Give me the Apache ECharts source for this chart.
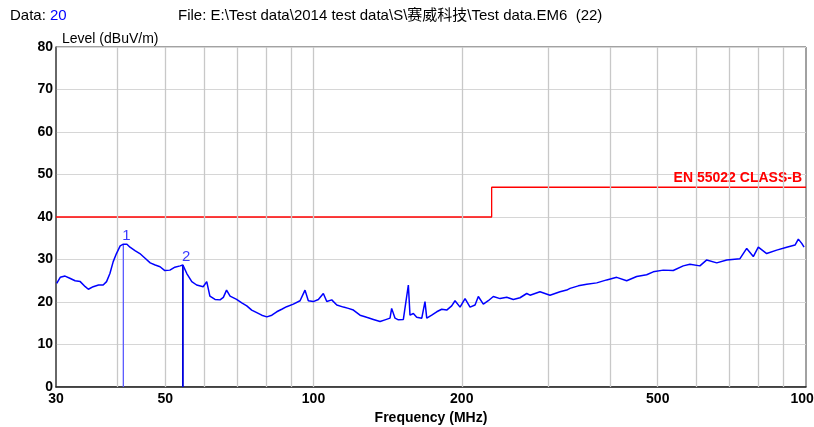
<!DOCTYPE html>
<html>
<head>
<meta charset="utf-8">
<script src="https://cdn.jsdelivr.net/npm/echarts@6/dist/echarts.min.js"></script>
<style>
  html, body { margin: 0; padding: 0; background: #ffffff; }
  #chart { width: 814px; height: 427px; }
</style>
</head>
<body>
<div id="chart"></div>
<script>
// Measured scan trace (MHz, dBuV/m)
const freqMHz = [
  30.1, 30.6, 31.3, 32.0, 32.8, 33.6, 34.4, 34.9, 35.7, 36.6, 37.4, 38.0, 38.6, 39.2, 39.8,
  40.5, 41.1, 41.8, 42.4, 43.4, 44.4, 45.5, 46.6, 47.7, 48.8, 49.9, 51.1, 52.3, 53.6, 54.3,
  55.3, 56.6, 57.9, 59.7, 60.7, 61.6, 63.1, 64.6, 65.6, 66.6, 67.7, 69.8, 71.5, 73.2, 74.9,
  76.7, 78.5, 80.4, 82.3, 84.2, 86.2, 88.2, 91.0, 93.9, 96.1, 97.6, 99.9, 102.3, 104.7, 106.4,
  108.9, 111.5, 115.0, 117.7, 120.5, 124.3, 128.2, 132.3, 136.5, 139.7, 143.0, 144.1, 146.4, 148.7, 152.2,
  155.8, 157.0, 159.5, 162.0, 165.9, 168.4, 169.8, 173.8, 177.9, 182.1, 186.4, 190.8, 193.8, 198.4, 203.1,
  207.9, 212.8, 216.1, 221.2, 226.4, 231.8, 239.2, 246.8, 254.5, 262.6, 271.0, 275.2, 288.3, 302.1, 316.6,
  326.7, 331.8, 344.9, 358.7, 375.9, 393.9, 412.7, 432.4, 453.1, 474.7, 489.6, 513.0, 537.5, 563.3, 581.2,
  608.9, 628.8, 658.8, 690.3, 734.4, 757.9, 781.6, 800.1, 832.2, 872.0, 913.7, 950.0, 964.8, 980.3, 990.9
];
const levelDb = [
  24.4, 25.8, 26.1, 25.6, 25.0, 24.8, 23.6, 23.0, 23.6, 24.0, 24.0, 24.8, 26.7, 29.5, 31.4,
  33.2, 33.6, 33.6, 32.9, 32.1, 31.4, 30.3, 29.2, 28.7, 28.3, 27.4, 27.5, 28.2, 28.5, 28.7,
  26.7, 24.8, 24.0, 23.6, 24.8, 21.4, 20.6, 20.5, 21.1, 22.8, 21.4, 20.6, 19.8, 19.1, 18.1,
  17.5, 16.9, 16.5, 16.9, 17.7, 18.3, 18.9, 19.5, 20.3, 22.8, 20.3, 20.1, 20.6, 22.0, 20.1,
  20.5, 19.3, 18.8, 18.5, 18.1, 16.9, 16.4, 15.9, 15.4, 15.8, 16.2, 18.5, 16.2, 15.8, 15.9,
  24.0, 16.9, 17.3, 16.4, 16.2, 20.1, 16.2, 16.9, 17.7, 18.3, 18.1, 19.1, 20.3, 18.8, 20.8,
  18.8, 19.3, 21.3, 19.5, 20.3, 21.3, 20.8, 21.1, 20.6, 21.0, 22.0, 21.6, 22.4, 21.6, 22.4,
  22.8, 23.2, 23.8, 24.2, 24.5, 25.2, 25.8, 25.0, 26.0, 26.4, 27.1, 27.5, 27.4, 28.5, 28.9,
  28.5, 29.9, 29.2, 29.9, 30.2, 32.6, 30.7, 32.9, 31.4, 32.2, 32.9, 33.4, 34.8, 33.8, 32.9
];

// Limit line EN 55022 Class B
const limitFreq = [30, 230, 230, 1000];
const limitLevel = [40, 40, 47, 47];
const limitName = 'EN 55022 CLASS-B';

// Peak markers
const markerNames = ['1', '2'];
const markerFreq = [41.1, 54.3];
const markerLevel = [33.6, 28.7];
const markerColors = ['#5a5aff', '#0000dd'];

// Axis ticks
const xLabelValues = [30, 50, 100, 200, 500, 1000];
const xGridValues = [40, 50, 60, 70, 80, 90, 100, 200, 300, 400, 500, 600, 700, 800, 900];

const FONT = "'Liberation Sans', Arial, sans-serif";

const chart = echarts.init(document.getElementById('chart'), null, { renderer: 'canvas' });

const traceData = freqMHz.map((f, i) => [f, levelDb[i]]);
const limitData = limitFreq.map((f, i) => [f, limitLevel[i]]);

const markerSeries = markerNames.map((name, i) => ({
  type: 'line',
  name: 'Marker ' + name,
  data: [[markerFreq[i], 0], [markerFreq[i], markerLevel[i]]],
  showSymbol: false,
  symbol: 'none',
  silent: true,
  z: 4,
  lineStyle: { color: markerColors[i], width: i === 0 ? 1.3 : 1.8 },
  endLabel: {
    show: true,
    formatter: name,
    position: 'top',
    distance: 1,
    offset: [-2, -8],
    color: '#3a3aff',
    fontFamily: FONT,
    fontSize: 15
  }
}));

chart.setOption({
  animation: false,
  backgroundColor: '#ffffff',
  grid: {
    left: 56, right: 8, top: 47, bottom: 40,
    outerBoundsMode: 'none',
    containLabel: false,
    show: true, borderColor: '#444444', borderWidth: 1
  },
  graphic: [
    {
      type: 'text', left: 10, top: 8,
      style: {
        text: '{a|Data: }{b|20}',
        rich: {
          a: { fontFamily: FONT, fontSize: 15, fill: '#000000' },
          b: { fontFamily: FONT, fontSize: 15, fill: '#0000ff' }
        }
      }
    },
    {
      type: 'text', left: 178, top: 8,
      style: {
        text: 'File: E:\\Test data\\2014 test data\\S\\赛威科技\\Test data.EM6  (22)',
        fontFamily: FONT + ", 'Noto Sans CJK SC'",
        fontSize: 15, fill: '#000000'
      }
    },
    {
      type: 'text', left: 62, top: 32,
      style: { text: 'Level (dBuV/m)', fontFamily: FONT, fontSize: 14, fill: '#000000' }
    }
  ],
  xAxis: {
    type: 'log',
    logBase: 10,
    min: 30,
    max: 1000,
    name: 'Frequency (MHz)',
    nameLocation: 'middle',
    nameGap: 22,
    nameTextStyle: { fontFamily: FONT, fontSize: 14, fontWeight: 'bold', color: '#000000' },
    axisLine: { show: true, lineStyle: { color: '#222222', width: 1.5 } },
    axisTick: { show: false },
    splitLine: { show: false },
    minorTick: { show: false },
    minorSplitLine: { show: false },
    axisLabel: {
      customValues: xLabelValues,
      showMinLabel: true,
      showMaxLabel: true,
      formatter: v => String(Math.round(v)),
      fontFamily: FONT,
      fontSize: 14,
      fontWeight: 'bold',
      color: '#000000',
      margin: 5
    }
  },
  yAxis: {
    type: 'value',
    min: 0,
    max: 80,
    interval: 10,
    axisLine: { show: true, lineStyle: { color: '#555555', width: 1.5 } },
    axisTick: { show: false },
    splitLine: { show: true, lineStyle: { color: '#d6d6d6', width: 1.2 } },
    axisLabel: {
      fontFamily: FONT,
      fontSize: 14,
      fontWeight: 'bold',
      color: '#000000',
      margin: 3
    }
  },
  series: [
    {
      // vertical frequency grid
      type: 'line',
      name: 'grid',
      data: [],
      silent: true,
      z: 1,
      markLine: {
        silent: true,
        symbol: 'none',
        label: { show: false },
        lineStyle: { color: '#c8c8c8', width: 1.3, type: 'solid' },
        data: xGridValues.map(v => ({ xAxis: v }))
      }
    },
    {
      type: 'line',
      name: limitName,
      data: limitData,
      showSymbol: false,
      symbol: 'none',
      silent: true,
      z: 3,
      lineStyle: { color: '#ff0000', width: 1.3 },
      endLabel: {
        show: true,
        formatter: limitName,
        position: 'top',
        align: 'right',
        distance: 2,
        offset: [-6, -9],
        color: '#ff0000',
        fontFamily: FONT,
        fontSize: 14,
        fontWeight: 'bold'
      }
    },
    {
      type: 'line',
      name: 'Level',
      data: traceData,
      showSymbol: false,
      symbol: 'none',
      silent: true,
      z: 5,
      lineStyle: { color: '#0000ff', width: 1.5 }
    },
    ...markerSeries
  ]
});
</script>
</body>
</html>
